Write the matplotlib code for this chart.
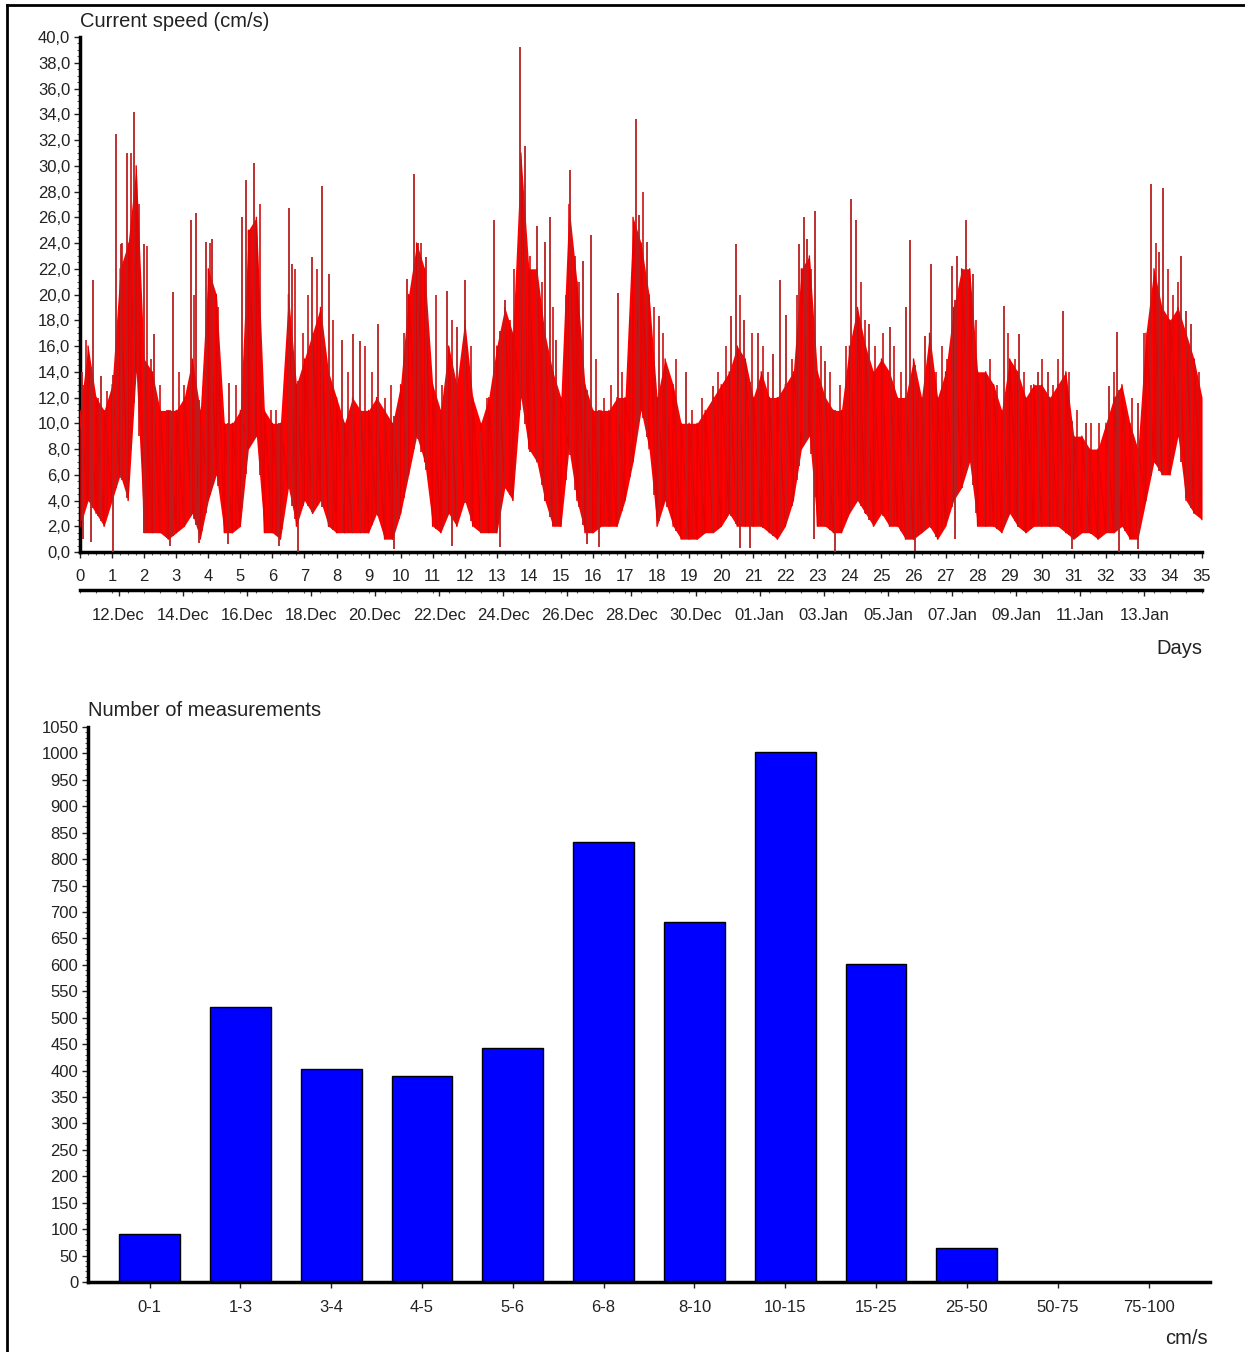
import numpy as np
import matplotlib.pyplot as plt
from matplotlib.lines import Line2D
from matplotlib.ticker import MultipleLocator, FuncFormatter

plt.rcParams['font.family'] = ['Liberation Sans', 'DejaVu Sans']

# ---------------------------------------------------------------------------
# Current speed record (cm/s), dense core of the trace read every quarter day (day 0 .. 35)
band_hi = [11, 16, 12, 11, 13, 22, 24, 30, 15, 14, 11, 11, 11, 12, 15, 11, 22, 20, 10, 10,
           11, 25, 26, 11, 10, 10, 20, 13, 15, 17, 19, 14, 12, 10, 12, 11,
           11, 12, 11, 10, 13, 20, 24, 22, 13, 11, 16, 13, 18, 12, 10, 12, 16, 19, 17, 31,
           22, 22, 17, 14, 12, 27, 21, 13, 11, 11, 11, 12, 12, 26, 24,
           20, 12, 15, 13, 10, 10, 10, 11, 12, 13, 14, 16, 15, 12, 14, 12, 12, 13, 14, 22,
           23, 14, 12, 11, 11, 16, 19, 16, 14, 15, 14, 12, 12, 15,
           12, 17, 12, 14, 19, 22, 22, 14, 14, 13, 11, 15, 14, 12, 13, 13, 12, 13, 14, 9,
           9, 8, 8, 10, 12, 13, 10, 8, 17, 22, 19, 18, 19, 17, 15, 12]
band_lo = [2, 4, 3, 2, 4, 6, 4, 14, 1.5, 1.5, 1.5, 1, 1.5, 2, 3, 1, 4, 6, 1.5, 1.5,
           2, 8, 9, 1.5, 1.5, 1, 5, 2, 4, 3, 4, 2, 1.5, 1.5, 1.5, 1.5,
           1.5, 3, 1, 1, 3, 6, 9, 7, 2, 1.5, 3, 2, 4, 2, 1.5, 1.5, 1.5, 5, 4, 12,
           8, 7, 4, 2, 2, 8, 4, 1.5, 1.5, 2, 2, 2, 4, 7, 11,
           8, 2, 4, 2, 1, 1, 1, 1.5, 1.5, 2, 3, 2, 2, 2, 2, 1.5, 1, 2, 4, 8,
           9, 2, 2, 1.5, 1.5, 3, 4, 3, 2, 3, 2, 2, 1, 1,
           1.5, 2, 1, 2, 4, 5, 7, 2, 2, 2, 1.5, 3, 2, 1.5, 2, 2, 2, 2, 1.5, 1,
           1.5, 1.5, 1, 1.5, 1.5, 2, 1, 1, 4, 7, 6, 6, 9, 4, 3, 2.5]

# tallest single readings poking out above the core
spike_day = [0.05, 0.40, 0.65, 1.12, 1.28, 1.48, 1.69, 2.00, 2.31, 2.89, 3.45, 3.61,
             3.92, 4.13, 4.65, 5.06, 5.17, 5.44, 6.51, 6.62, 7.23, 7.56, 7.77, 8.16,
             8.52, 8.73, 9.28, 9.95, 10.21, 10.42, 10.53, 10.78, 11.45, 11.77, 12.02,
             12.50, 12.90, 13.26, 13.72, 13.88, 14.24, 14.50, 14.66, 14.86, 15.28,
             15.69, 15.95, 16.78, 17.35, 17.45, 17.67, 18.05, 18.31, 18.89, 19.73,
             20.30, 20.46, 20.72, 21.14, 21.61, 21.85, 22.03, 22.42, 22.58, 22.69,
             22.92, 23.23, 24.05, 24.20, 24.62, 25.27, 25.76, 25.88, 26.37, 26.54,
             27.19, 27.36, 27.64, 27.84, 28.20, 28.82, 29.29, 29.88, 30.18, 30.66,
             31.38, 32.11, 32.36, 33.00, 33.41, 33.67, 33.78, 34.35, 34.49, 34.65]
spike_top = [14.0, 21.1, 13.7, 32.5, 23.9, 31.0, 34.2, 23.9, 16.9, 20.2, 25.8, 26.3,
             24.1, 24.3, 13.1, 26.0, 28.9, 30.2, 26.7, 22.4, 22.9, 28.4, 21.6, 16.5,
             16.9, 16.4, 17.7, 11.6, 21.2, 29.4, 24.0, 22.9, 20.3, 17.5, 21.1,
             9.4, 25.8, 19.6, 39.2, 31.5, 25.3, 24.1, 26.0, 16.5, 29.7,
             22.6, 24.6, 20.1, 33.6, 26.2, 24.1, 18.3, 14.4, 14.0, 12.9,
             18.3, 23.9, 18.0, 17.0, 15.4, 21.1, 18.4, 23.9, 26.0, 24.3,
             26.5, 14.8, 27.4, 25.8, 17.7, 17.5, 19.0, 24.2, 16.8, 22.4,
             22.2, 23.0, 25.8, 21.6, 13.8, 19.1, 16.9, 14.0, 14.0, 18.7,
             10.0, 12.9, 17.1, 11.6, 28.6, 23.3, 28.3, 23.0, 18.7, 17.7]

# smaller readings just above the core
minor_day = [0.20, 0.55, 0.85, 1.30, 1.60, 1.85, 2.10, 2.20, 2.50, 2.70, 3.10, 3.25,
             3.55, 3.80, 4.05, 4.30, 4.85, 5.30, 5.60, 5.95, 6.10, 6.30, 6.70, 6.95,
             7.10, 7.40, 7.90, 8.35, 8.90, 9.10, 9.50, 9.70, 10.10, 10.65, 11.10, 11.30,
             11.60, 12.20, 12.70, 13.05, 13.40, 13.55, 14.05, 14.40, 14.75, 15.15,
             15.45, 15.55, 16.10, 16.35, 16.55, 16.90, 17.15, 17.55, 17.90, 18.20,
             18.60, 19.10, 19.40, 19.90, 20.15, 20.60, 20.95, 21.30, 21.45, 22.20,
             22.35, 22.80, 23.10, 23.40, 23.70, 23.90, 24.35, 24.50, 24.80, 25.05,
             25.40, 25.60, 26.15, 26.25, 26.70, 26.90, 27.05, 27.50, 27.95, 28.40,
             28.60, 28.95, 29.15, 29.45, 29.65, 30.00, 30.35, 30.50, 30.85, 31.10,
             31.55, 31.80, 32.25, 32.60, 32.80, 33.20, 33.55, 33.95, 34.10, 34.25,
             34.75, 34.90]
minor_top = [16.5, 12, 12.5, 24, 31, 27, 23.8, 15, 13, 11, 14, 13,
             20, 10, 24, 19, 13, 25, 27, 11, 11, 10, 22, 17,
             20, 22, 18, 14, 16, 14, 12, 13, 17, 24, 20, 13,
             18, 16, 12, 16, 18, 22, 23, 21, 19, 20,
             23, 21, 15, 12, 13, 14, 18, 28, 19, 17,
             15, 11, 12, 14, 16, 20, 17, 16, 14, 15,
             20, 22, 16, 14, 13, 16, 21, 18, 16, 17,
             16, 14, 13, 12, 14, 16, 15, 22, 18, 15,
             13, 17, 15, 14, 13, 15, 13, 15, 14, 11,
             10, 10, 14, 11, 12, 17, 24, 22, 20, 21,
             15, 14]

# single readings dropping below the core
dip_day = [0.10, 0.35, 1.02, 2.80, 3.70, 4.62, 6.20, 6.79, 9.80, 11.60, 13.10, 15.80,
           16.20, 20.60, 20.90, 22.90, 23.55, 26.04, 27.30, 30.94, 32.40, 33.00]
dip_low = [1.0, 0.8, 0.0, 0.5, 0.7, 0.6, 0.5, 0.0, 0.2, 0.5, 0.4, 0.6,
           0.4, 0.3, 0.3, 1.0, 0.0, 0.1, 1.0, 0.2, 0.0, 0.2]

date_labels = ['12.Dec', '14.Dec', '16.Dec', '18.Dec', '20.Dec', '22.Dec', '24.Dec',
               '26.Dec', '28.Dec', '30.Dec', '01.Jan', '03.Jan', '05.Jan', '07.Jan',
               '09.Jan', '11.Jan', '13.Jan']
first_date_day = 1.2

# histogram of speeds
speed_bins = ['0-1', '1-3', '3-4', '4-5', '5-6', '6-8', '8-10', '10-15', '15-25',
              '25-50', '50-75', '75-100']
bin_counts = [90, 520, 403, 390, 443, 832, 681, 1003, 602, 64, 0, 0]

# ---------------------------------------------------------------------------
fig = plt.figure(figsize=(12.45, 13.52), dpi=100)
txt = '#222222'

# ------------------------------- top: time series -------------------------
ax = fig.add_axes([0.0643, 0.5917, 0.9012, 0.3809])
t = np.arange(len(band_hi)) * 0.25
hi = np.array(band_hi)
lo = np.array(band_lo)

ax.fill_between(t, lo, hi, color='#ff0000', lw=0, zorder=2)
zig_x = np.repeat(t, 2)
zig_y = np.column_stack([lo, hi]).ravel()
ax.plot(zig_x, zig_y, color='#e80000', lw=1.0, zorder=3)
ax.vlines(minor_day, np.interp(minor_day, t, lo), minor_top, color='#d01010', lw=1.2, zorder=3)
ax.vlines(spike_day, np.interp(spike_day, t, lo), spike_top, color='#b82020', lw=1.3, zorder=4)
ax.vlines(dip_day, dip_low, np.interp(dip_day, t, hi), color='#b82020', lw=1.3, zorder=4)

ax.set_xlim(0, 35)
ax.set_ylim(0, 40)
for s in ['top', 'right']:
    ax.spines[s].set_visible(False)
ax.spines['left'].set_linewidth(2.5)
ax.spines['bottom'].set_linewidth(2.5)
ax.xaxis.set_major_locator(MultipleLocator(1))
ax.xaxis.set_minor_locator(MultipleLocator(0.25))
ax.yaxis.set_major_locator(MultipleLocator(2))
ax.yaxis.set_minor_locator(MultipleLocator(0.5))
ax.yaxis.set_major_formatter(FuncFormatter(lambda v, p: f'{v:.1f}'.replace('.', ',')))
ax.tick_params(axis='both', which='major', length=4, width=1, labelsize=12, colors=txt)
ax.tick_params(axis='x', which='major', pad=8)
ax.tick_params(axis='y', which='major', pad=3)
ax.tick_params(axis='both', which='minor', length=2.5, width=0.8, colors='#555555')
ax.text(0.0, 1.012, 'Current speed (cm/s)', transform=ax.transAxes, ha='left',
        va='bottom', fontsize=14.5, color=txt)

# calendar axis underneath the day axis
date_ax = ax.secondary_xaxis(-0.0738)
date_ax.spines['bottom'].set_linewidth(2.5)
date_ax.set_xticks([first_date_day + 2 * i for i in range(len(date_labels))])
date_ax.set_xticklabels(date_labels)
date_ax.xaxis.set_minor_locator(MultipleLocator(0.5))
date_ax.tick_params(axis='x', which='major', length=4, width=1, labelsize=12,
                    colors=txt, pad=9)
date_ax.tick_params(axis='x', which='minor', length=2.5, width=0.8, colors='#555555')
fig.text(1202 / 1245, 1 - 648 / 1352, 'Days', ha='right', va='center',
         fontsize=14.5, color=txt)

# ------------------------------- bottom: histogram ------------------------
bx = fig.add_axes([0.0707, 0.0518, 0.9012, 0.4105])
pos = np.arange(len(speed_bins))
bx.bar(pos, bin_counts, width=0.67, color='#0000ff', edgecolor='black', lw=1.0, zorder=2)
bx.set_xlim(-0.677, len(speed_bins) - 1 + 0.677)
bx.set_ylim(0, 1050)
for s in ['top', 'right']:
    bx.spines[s].set_visible(False)
bx.spines['left'].set_linewidth(2.5)
bx.spines['bottom'].set_linewidth(2.5)
bx.set_xticks(pos)
bx.set_xticklabels(speed_bins)
bx.yaxis.set_major_locator(MultipleLocator(50))
bx.yaxis.set_minor_locator(MultipleLocator(10))
bx.tick_params(axis='both', which='major', length=4, width=1, labelsize=12, colors=txt)
bx.tick_params(axis='x', which='major', pad=9)
bx.tick_params(axis='y', which='major', pad=3)
bx.tick_params(axis='y', which='minor', length=2.5, width=0.8, colors='#555555')
bx.text(0.0, 1.012, 'Number of measurements', transform=bx.transAxes, ha='left',
        va='bottom', fontsize=14.5, color=txt)
fig.text(1208 / 1245, 1 - 1338 / 1352, 'cm/s', ha='right', va='center',
         fontsize=14.5, color=txt)

# frame of the original report page
fig.add_artist(Line2D([7 / 1245, 1.0], [1 - 5 / 1352, 1 - 5 / 1352], color='black', lw=2))
fig.add_artist(Line2D([7 / 1245, 7 / 1245], [0.0, 1 - 5 / 1352], color='black', lw=2))

fig.savefig('out.png', dpi=100)
